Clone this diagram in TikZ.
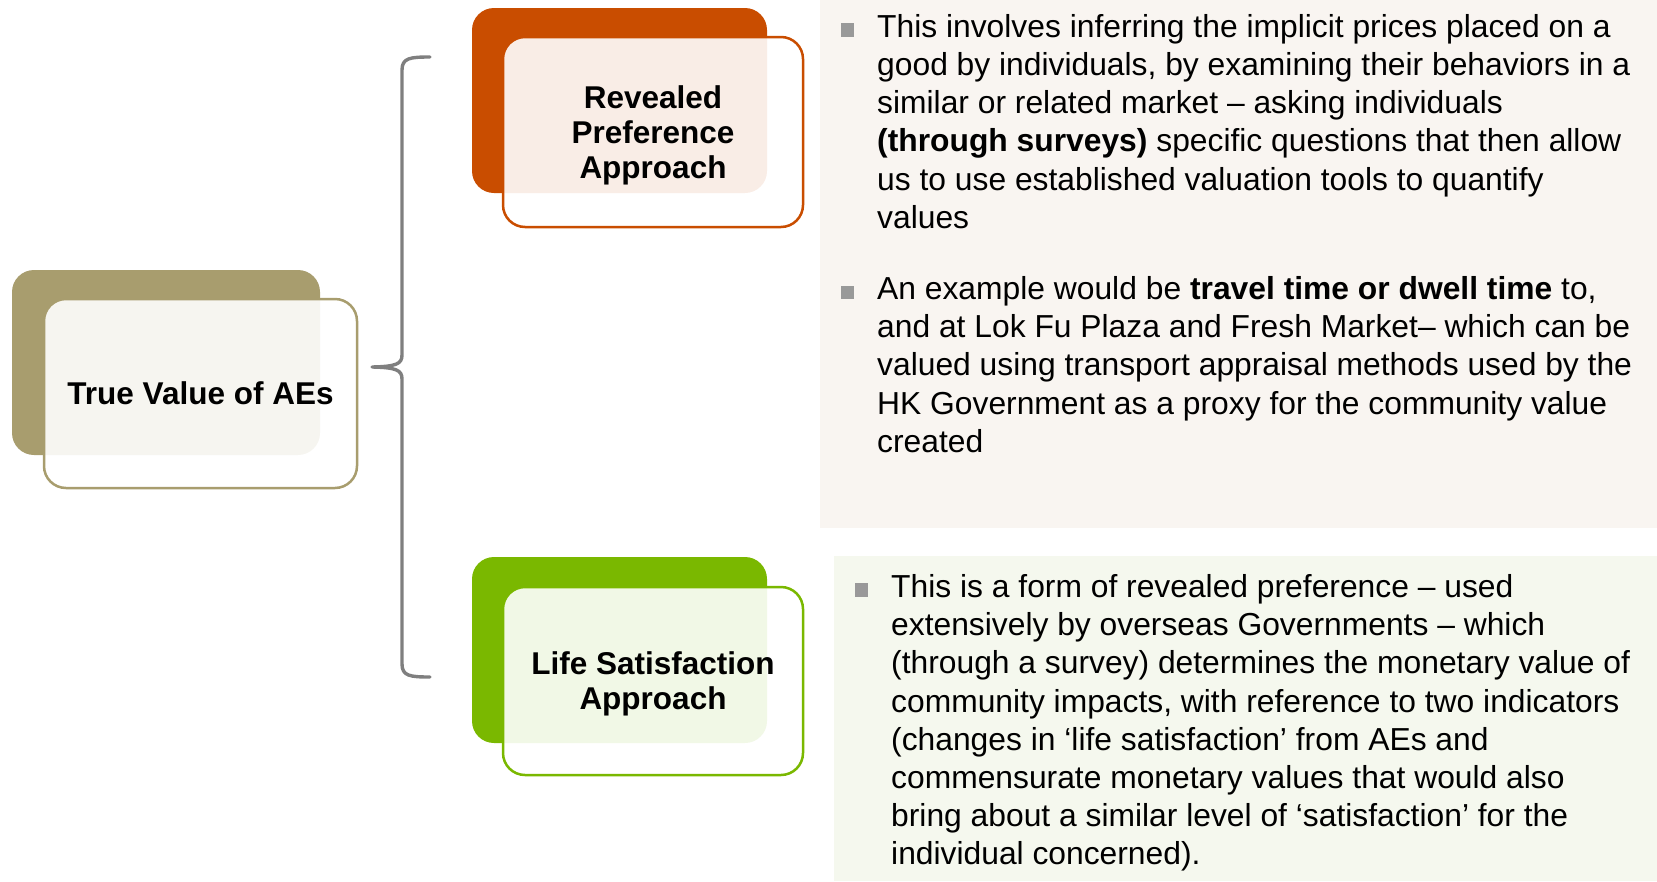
\documentclass[tikz,border=0pt]{standalone}
\usepackage{fontspec}
\setmainfont{Liberation Sans}
\definecolor{tanc}{HTML}{A89D6E}
\definecolor{orangec}{HTML}{C94D00}
\definecolor{greenc}{HTML}{7AB800}
\definecolor{panelwarm}{HTML}{F9F5F1}
\definecolor{panelgreen}{HTML}{F5F8EE}
\definecolor{bulletgray}{HTML}{999999}
\definecolor{bracegray}{HTML}{7F7F7F}
\begin{document}
\begin{tikzpicture}[x=1pt,y=-1pt,
  backbox/.style={draw=none, fill=#1, rounded corners=22pt, inner sep=0pt, outer sep=0pt},
  frontbox/.style={draw=#1, line width=2.5pt, fill=white, fill opacity=0.9, rounded corners=22pt, inner sep=0pt, outer sep=0pt},
  title/.style={align=center, inner sep=0pt, font=\fontsize{31.5}{35}\selectfont\bfseries},
  panel/.style={draw=none, fill=#1, anchor=north west, inner sep=0pt, outer sep=0pt},
  bulletbox/.style={draw=none, fill=bulletgray, minimum size=13.3pt, inner sep=0pt},
  bodytext/.style={anchor=base west, inner sep=0pt, font=\fontsize{31.8}{38.2}\selectfont},
  bracepath/.style={draw=bracegray, line width=3.4pt, line cap=round, line join=round}]
\useasboundingbox (0,0) rectangle (1657,881);

% text panels on the right
\node[panel=panelwarm, minimum width=837pt, minimum height=528pt] (panelA) at (820,0) {};
\node[panel=panelgreen, minimum width=823pt, minimum height=325pt] (panelB) at (834,556) {};

% root box
\node[backbox=tanc, minimum width=308pt, minimum height=185pt] (rootback) at (166,362.5) {};
\node[frontbox=tanc, minimum width=313pt, minimum height=189pt] (rootfront) at (200.5,393.5) {};
\node[title] (roottext) at (rootfront.center) {True Value of AEs};

% revealed preference box
\node[backbox=orangec, minimum width=295pt, minimum height=185pt] (revback) at (619.5,100.5) {};
\node[frontbox=orangec, minimum width=300pt, minimum height=190pt] (revfront) at (653,132) {};
\node[title] (revtext) at (653,135) {Revealed\\Preference\\Approach};

% life satisfaction box
\node[backbox=greenc, minimum width=295pt, minimum height=186pt] (lifeback) at (619.5,650) {};
\node[frontbox=greenc, minimum width=300pt, minimum height=188pt] (lifefront) at (653,681) {};
\node[title] (lifetext) at (653,683.5) {Life Satisfaction\\Approach};

% curly brace joining the root to both approaches
\coordinate (brtop) at (430,57);
\coordinate (brtip) at (372,367);
\coordinate (brbot) at (430,677);
\draw[bracepath] (brtop) .. controls (410,57) and (402,58) .. (402,70)
  -- (402,355) .. controls (402,364) and (396,366.5) .. (brtip)
  .. controls (396,367.5) and (402,370) .. (402,379)
  -- (402,664) .. controls (402,676) and (410,677) .. (brbot);

% bullets
\node[bulletbox] (bul1) at (847.5,30) {};
\node[bulletbox] (bul2) at (847.5,292.2) {};
\node[bulletbox] (bul3) at (861.5,590) {};

% descriptions
\node[bodytext] (para1) at (877,37.3) {\begin{tabular}[t]{@{}l@{}}
This involves inferring the implicit prices placed on a\\
good by individuals, by examining their behaviors in a\\
similar or related market – asking individuals\\
\textbf{(through surveys)} specific questions that then allow\\
us to use established valuation tools to quantify\\
values
\end{tabular}};

\node[bodytext] (para2) at (877,299.5) {\begin{tabular}[t]{@{}l@{}}
An example would be \textbf{travel time or dwell time} to,\\
and at Lok Fu Plaza and Fresh Market– which can be\\
valued using transport appraisal methods used by the\\
HK Government as a proxy for the community value\\
created
\end{tabular}};

\node[bodytext] (para3) at (891,597.5) {\begin{tabular}[t]{@{}l@{}}
This is a form of revealed preference – used\\
extensively by overseas Governments – which\\
(through a survey) determines the monetary value of\\
community impacts, with reference to two indicators\\
(changes in ‘life satisfaction’ from AEs and\\
commensurate monetary values that would also\\
bring about a similar level of ‘satisfaction’ for the\\
individual concerned).
\end{tabular}};
\end{tikzpicture}
\end{document}
